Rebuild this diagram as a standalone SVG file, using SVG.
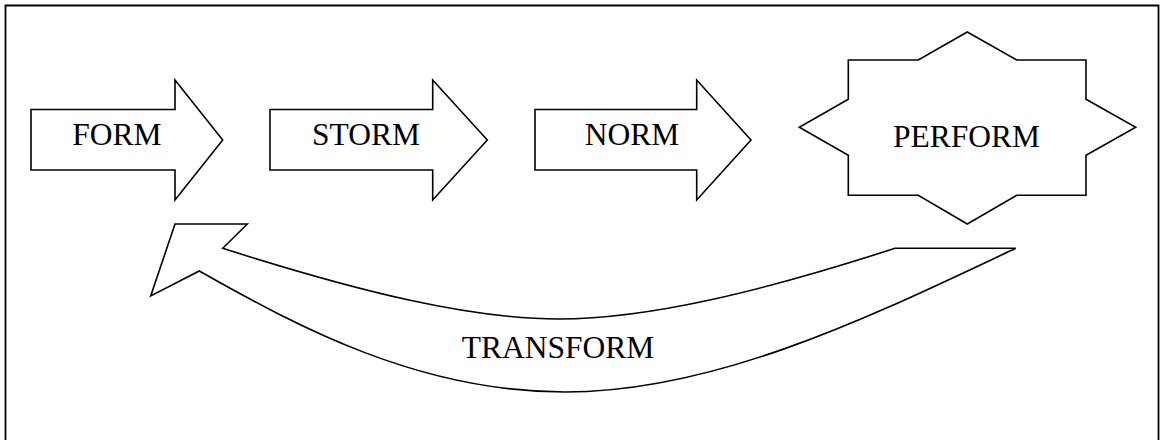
<svg xmlns="http://www.w3.org/2000/svg" width="1160" height="440" viewBox="0 0 1160 440">
  <style>
    .shape { fill: #ffffff; stroke: #000000; stroke-width: 1.6; stroke-linejoin: miter; }
    .label { font-family: "Liberation Serif", "Times New Roman", serif; font-size: 31.5px; fill: #000000; text-anchor: middle; }
    .frame { fill: none; stroke: #000000; stroke-width: 1.8; }
  </style>
  <rect width="1160" height="440" fill="#ffffff"/>
  <!-- outer frame, open at the bottom -->
  <path class="frame" d="M5.5 445 V5.5 H1158.5 V445"/>

  <g id="form">
    <polygon class="shape" points="31,109.5 175,109.5 175,80 222.7,140 175,200 175,170 31,170"/>
    <text class="label" x="117" y="145">FORM</text>
  </g>

  <g id="storm">
    <polygon class="shape" points="270,109.5 432.7,109.5 432.7,80 487.3,140 432.7,200 432.7,170 270,170"/>
    <text class="label" x="366" y="145">STORM</text>
  </g>

  <g id="norm">
    <polygon class="shape" points="535,109.5 696.7,109.5 696.7,80 751,140 696.7,200 696.7,170 535,170"/>
    <text class="label" x="632" y="145">NORM</text>
  </g>

  <g id="perform">
    <polygon class="shape" points="967.3,32 1016.7,60 1086,60 1086,99.3 1135.7,127.3 1086,155.3 1086,195.3 1016.7,195.3 967.3,224 918.3,195.3 848.3,195.3 848.3,155.3 799.3,127.3 848.3,99.3 848.3,60 918.3,60"/>
    <text class="label" x="966.5" y="147">PERFORM</text>
  </g>

  <g id="connectors">
    <g id="transform">
      <path class="shape" d="M150.7 296 L175 224 L247.3 224 L222.7 248.3 C360 292 470 319 559 319 C648 319 760 292 895 248.3 L1015.7 248.3 C880 312 720 392 565 392 C420 392 300 328 199.3 271 Z"/>
      <text class="label" x="558" y="358.3">TRANSFORM</text>
    </g>
  </g>
</svg>
